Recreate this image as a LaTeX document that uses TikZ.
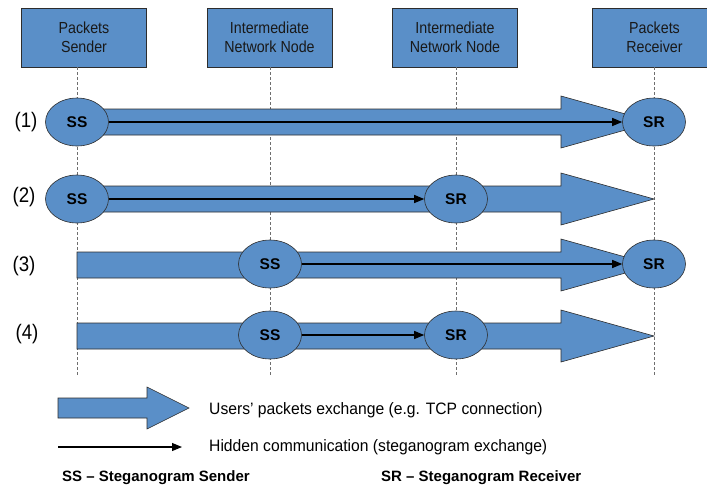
\documentclass[tikz,border=0pt]{standalone}
\usepackage{fontspec}
\setmainfont{Liberation Sans}
\newfontfamily\hdrfont[FakeStretch=0.89]{Liberation Sans}
\newfontfamily\legfont[FakeStretch=0.95]{Liberation Sans}
\usetikzlibrary{arrows.meta,shapes.geometric}
\definecolor{bluefill}{RGB}{90,143,200}
\definecolor{edgecol}{RGB}{45,45,45}
\definecolor{lifecol}{RGB}{110,110,110}
\tikzset{
  hdr/.style={draw=edgecol, fill=bluefill, minimum width=125pt, minimum height=59pt, inner sep=0pt,
    align=center, font=\hdrfont\fontsize{16}{19}\selectfont, line width=0.6pt, text=black!90},
  ell/.style={ellipse, draw=edgecol, fill=bluefill, minimum width=63pt, minimum height=48pt,
    inner sep=0pt, font=\bfseries\fontsize{15.5}{15.5}\selectfont, line width=0.6pt},
  life/.style={draw=lifecol, line width=0.6pt, dash pattern=on 3pt off 2pt},
  hid/.style={-{Triangle[length=10pt,width=8pt]}, line width=1.1pt, draw=black},
  fat/.style={draw=edgecol, fill=bluefill, line width=0.6pt, line join=miter},
  rowlbl/.style={font=\hdrfont\fontsize{21}{21}\selectfont, inner sep=0pt},
  legtxt/.style={anchor=west, font=\legfont\fontsize{16.5}{16.5}\selectfont, inner sep=0pt},
  boldtxt/.style={anchor=west, font=\bfseries\fontsize{15}{15}\selectfont, inner sep=0pt}
}
\newcommand\fatrow[2]{%
  \path[fat] (#1,{#2-13}) -- (561,{#2-13}) -- (561,{#2-26}) -- (654,#2) -- (561,{#2+26}) -- (561,{#2+13}) -- (#1,{#2+13}) -- cycle;}
\begin{document}
\begin{tikzpicture}[x=1pt,y=-1pt]
\useasboundingbox (0,0) rectangle (707,488);
% header boxes
\node[hdr] (snd) at (84,37.5) {Packets\\Sender};
\node[hdr] (in1) at (269.5,37.5) {Intermediate\\Network Node};
\node[hdr] (in2) at (455,37.5) {Intermediate\\Network Node};
\node[hdr] (rcv) at (654.5,37.5) {Packets\\Receiver};
% lifelines
\coordinate (s0) at (77,67);
\coordinate (s1) at (77,375);
\coordinate (a1) at (270,375);
\coordinate (b1) at (456,375);
\coordinate (r1) at (654,375);
\draw[life] (s0) -- (s1);
\draw[life] (in1.south -| a1) -- (a1);
\draw[life] (in2.south -| b1) -- (b1);
\draw[life] (rcv.south -| r1) -- (r1);
% rows of packets exchange
\fatrow{77}{122}
\fatrow{77}{199}
\fatrow{77}{265}
\fatrow{77}{336}
% row labels
\node[rowlbl] (l1) at (26,122) {(1)};
\node[rowlbl] (l2) at (24,197) {(2)};
\node[rowlbl] (l3) at (24,266) {(3)};
\node[rowlbl] (l4) at (27,334) {(4)};
% ellipses
\node[ell] (ss1) at (77,122) {SS};
\node[ell] (sr1) at (654,122) {SR};
\node[ell] (ss2) at (77,199) {SS};
\node[ell] (sr2) at (456,199) {SR};
\node[ell] (ss3) at (270,264) {SS};
\node[ell] (sr3) at (654,264) {SR};
\node[ell] (ss4) at (270,335) {SS};
\node[ell] (sr4) at (456,335) {SR};
% hidden communication
\draw[hid] (ss1.east) -- (sr1.west);
\draw[hid] (ss2.east) -- (sr2.west);
\draw[hid] (ss3.east) -- (sr3.west);
\draw[hid] (ss4.east) -- (sr4.west);
% legend
\path[fat] (58,398) -- (147,398) -- (147,387) -- (189,408) -- (147,429) -- (147,418) -- (58,418) -- cycle;
\node[legtxt] (t1) at (209,410) {Users’ packets exchange (e.g. TCP connection)};
\coordinate (h0) at (58,447);
\coordinate (h1) at (182,447);
\draw[hid] (h0) -- (h1);
\node[legtxt] (t2) at (209,447) {Hidden communication (steganogram exchange)};
\node[boldtxt] (t3) at (62,478) {SS – Steganogram Sender};
\node[boldtxt] (t4) at (381,478) {SR – Steganogram Receiver};
\end{tikzpicture}
\end{document}
